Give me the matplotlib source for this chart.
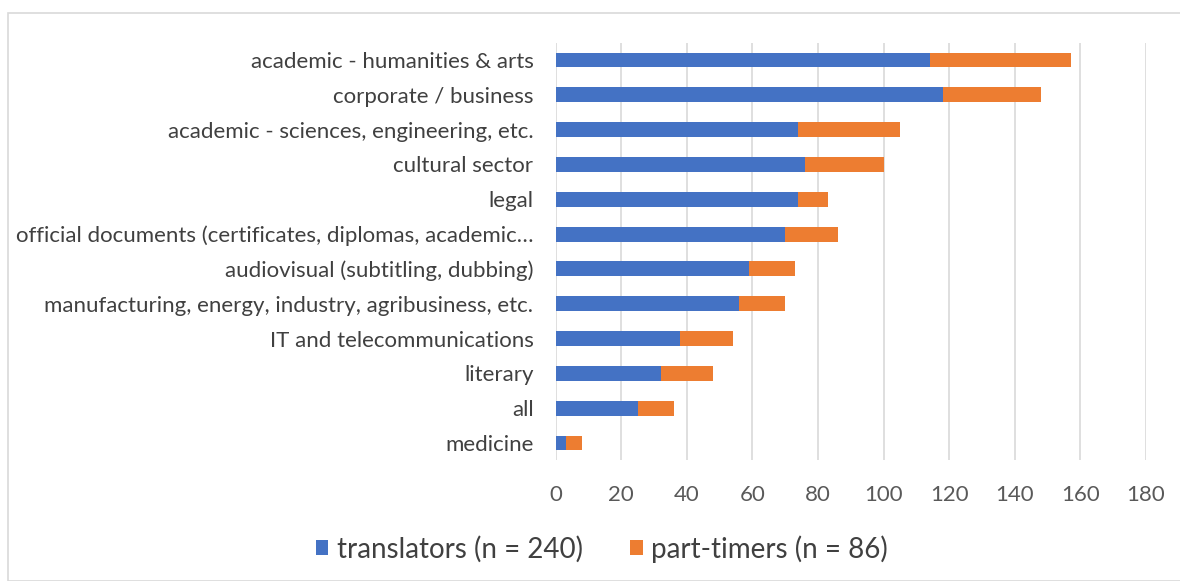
import matplotlib
matplotlib.use("Agg")
import matplotlib.pyplot as plt
from matplotlib.patches import Rectangle

categories = [
    "academic - humanities & arts",
    "corporate / business",
    "academic - sciences, engineering, etc.",
    "cultural sector",
    "legal",
    "official documents (certificates, diplomas, academic\u2026",
    "audiovisual (subtitling, dubbing)",
    "manufacturing, energy, industry, agribusiness, etc.",
    "IT and telecommunications",
    "literary",
    "all",
    "medicine",
]
translators = [114, 118, 74, 76, 74, 70, 59, 56, 38, 32, 25, 3]
part_timers = [43, 30, 31, 24, 9, 16, 14, 14, 16, 16, 11, 5]
x_ticks = [0, 20, 40, 60, 80, 100, 120, 140, 160, 180]
legend_labels = ["translators (n = 240)", "part-timers (n = 86)"]


def main():
    plt.rcParams["font.family"] = ["Lato", "DejaVu Sans"]
    blue = "#4472C4"
    orange = "#ED7D31"

    fig = plt.figure(figsize=(11.8, 5.81), dpi=100)
    fig.patches.append(Rectangle((8 / 1180, 0), 1.2, 1 - 13 / 581,
                                 transform=fig.transFigure, fill=False,
                                 edgecolor="#d9d9d9", linewidth=1.2))
    ax = fig.add_axes([555.7 / 1180, 1 - 460.4 / 581,
                       (1146 - 555.7) / 1180, (460.4 - 42.6) / 581])

    y = list(range(len(categories)))
    ax.barh(y, translators, height=0.43, color=blue, label=legend_labels[0])
    ax.barh(y, part_timers, left=translators, height=0.43, color=orange,
            label=legend_labels[1])

    ax.set_ylim(len(categories) - 0.5, -0.5)
    ax.set_xlim(0, 180)
    ax.set_xticks(x_ticks)
    ax.set_yticks(y)
    ax.set_yticklabels(categories)
    ax.tick_params(axis="y", length=0, labelsize=16, colors="#404040", pad=16)
    ax.tick_params(axis="x", length=0, labelsize=16, colors="#595959", pad=18)
    for s in ax.spines.values():
        s.set_visible(False)
    ax.xaxis.grid(True, color="#d9d9d9", linewidth=1.2)
    ax.set_axisbelow(True)

    fig.legend(loc="center", bbox_to_anchor=(0.51, 1 - 549 / 581), ncol=2,
               frameon=False, fontsize=20, labelcolor="#404040",
               handlelength=0.45, handleheight=0.45, handletextpad=0.3,
               columnspacing=1.7)

    fig.savefig("out.png", dpi=100)


if __name__ == "__main__":
    main()
